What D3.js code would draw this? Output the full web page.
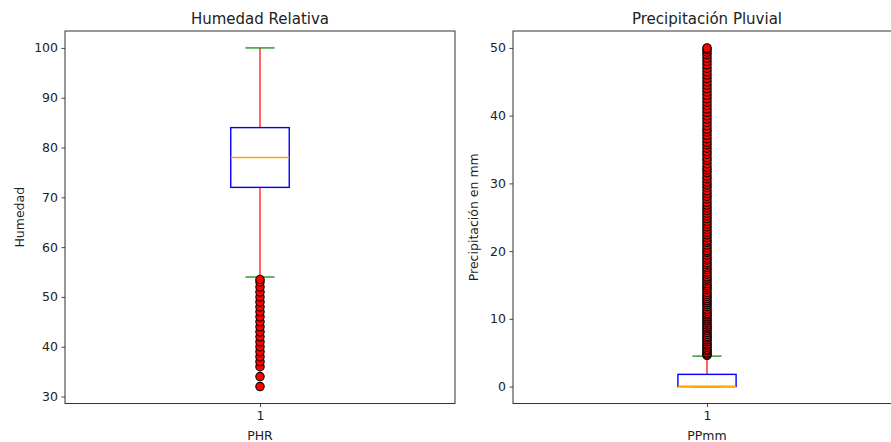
<!DOCTYPE html>
<html><head><meta charset="utf-8">
<script src="https://cdn.jsdelivr.net/npm/d3@7"></script>
<style>body{margin:0;background:#fff}svg{display:block;font-family:"DejaVu Sans",sans-serif}</style>
</head><body><svg id="c" width="891" height="442"></svg>
<script>
const titles = ["Humedad Relativa", "Precipitación Pluvial"];
const yLabels = ["Humedad", "Precipitación en mm"];
const xLabels = ["PHR", "PPmm"];
const categories = ["1"];
// box stats: [whiskerLow, q1, median, q3, whiskerHigh]
const phrStats = [54, 72, 78, 84, 100];
const ppStats = [0, 0, 0, 1.8, 4.5];
const phrOutliers = [32, 34, 36, 37, 38, 39, 40, 41, 42, 43, 44, 45, 46, 47, 48, 49, 50, 51, 52, 53, 53.5];
const ppOutliers = [4.6, 4.8, 5.0, 5.3, 5.5, 5.8, 6.1, 6.3, 6.6, 6.9, 7.2, 7.4, 7.7, 8.0, 8.3, 8.6, 8.8, 9.1, 9.4, 9.7, 10.0, 10.3, 10.6, 10.8, 11.1, 11.4, 11.8, 12.1, 12.4, 12.7, 13.0, 13.3, 13.6, 13.9, 14.3, 14.6, 14.9, 15.2, 15.6, 15.9, 16.2, 16.6, 16.9, 17.3, 17.6, 18.0, 18.3, 18.7, 19.0, 19.4, 19.8, 20.1, 20.5, 20.9, 21.3, 21.6, 22.0, 22.4, 22.8, 23.2, 23.6, 24.0, 24.4, 24.8, 25.2, 25.6, 26.0, 26.4, 26.8, 27.2, 27.7, 28.1, 28.5, 28.9, 29.4, 29.8, 30.2, 30.7, 31.1, 31.6, 32.0, 32.4, 32.9, 33.4, 33.8, 34.3, 34.7, 35.2, 35.7, 36.1, 36.6, 37.1, 37.6, 38.0, 38.5, 39.0, 39.5, 40.0, 40.5, 41.0, 41.5, 42.0, 42.5, 43.0, 43.5, 44.0, 44.5, 45.0, 45.5, 46.0, 46.5, 47.0, 47.5, 48.0, 48.5, 49.0, 49.4, 49.8, 50.0];
const phrTicks = [30, 40, 50, 60, 70, 80, 90, 100];
const ppTicks = [0, 10, 20, 30, 40, 50];

const svg = d3.select("#c");
const panels = [
  {x0: 65, x1: 455, dom: [28.6, 103.4], stats: phrStats, out: phrOutliers, ticks: phrTicks, labelX: 20},
  {x0: 513, x1: 901, dom: [-2.5, 52.5], stats: ppStats, out: ppOutliers, ticks: ppTicks, labelX: 474}
];
const plotTop = 31, plotBottom = 403.5;
const spine = "#333";

panels.forEach((p, i) => {
  const x = d3.scaleLinear().domain([0.5, 1.5]).range([p.x0, p.x1]);
  const y = d3.scaleLinear().domain(p.dom).range([plotBottom, plotTop]);
  const g = svg.append("g");
  const [wl, q1, med, q3, wh] = p.stats;
  const c = 1, bw = 0.075, cw = 0.0375;
  g.append("line").attr("x1", x(c)).attr("x2", x(c)).attr("y1", y(q3)).attr("y2", y(wh)).attr("stroke", "red").attr("stroke-width", 1.2);
  g.append("line").attr("x1", x(c)).attr("x2", x(c)).attr("y1", y(q1)).attr("y2", y(wl)).attr("stroke", "red").attr("stroke-width", 1.2);
  [wl, wh].forEach(v => g.append("line").attr("x1", x(c - cw)).attr("x2", x(c + cw)).attr("y1", y(v)).attr("y2", y(v)).attr("stroke", "green").attr("stroke-width", 1.2));
  g.append("rect").attr("x", x(c - bw)).attr("width", x(c + bw) - x(c - bw)).attr("y", y(q3)).attr("height", y(q1) - y(q3))
    .attr("fill", "none").attr("stroke", "blue").attr("stroke-width", 1.4);
  g.append("line").attr("x1", x(c - bw)).attr("x2", x(c + bw)).attr("y1", y(med)).attr("y2", y(med)).attr("stroke", "orange").attr("stroke-width", 1.4);
  g.selectAll("circle.o").data(p.out).join("circle").attr("class", "o")
    .attr("cx", x(c)).attr("cy", d => y(d)).attr("r", 4.2).attr("fill", "red").attr("stroke", "black").attr("stroke-width", 1.1);
  const ya = g.append("g").attr("transform", `translate(${p.x0},0)`).call(d3.axisLeft(y).tickValues(p.ticks).tickSize(3.5).tickPadding(3.5).tickFormat(d3.format("d")));
  const xa = g.append("g").attr("transform", `translate(0,${plotBottom})`).call(d3.axisBottom(x).tickValues([1]).tickSize(3.5).tickPadding(4).tickFormat((d, k) => categories[k]));
  [ya, xa].forEach(a => { a.select(".domain").remove(); a.selectAll("text").attr("font-size", 12.5).attr("fill", "#222").attr("font-family", "DejaVu Sans"); a.selectAll("line").attr("stroke", spine).attr("stroke-width", 0.9); });
  g.append("rect").attr("x", p.x0).attr("y", plotTop).attr("width", p.x1 - p.x0).attr("height", plotBottom - plotTop).attr("fill", "none").attr("stroke", spine).attr("stroke-width", 1);
  g.append("text").attr("x", (p.x0 + p.x1) / 2).attr("y", 23.5).attr("text-anchor", "middle").attr("font-size", 15).attr("fill", "#222").text(titles[i]);
  g.append("text").attr("x", (p.x0 + p.x1) / 2).attr("y", 439.5).attr("text-anchor", "middle").attr("font-size", 12.5).attr("fill", "#222").text(xLabels[i]);
  g.append("text").attr("transform", `translate(${p.labelX},${(plotTop + plotBottom) / 2}) rotate(-90)`).attr("text-anchor", "middle").attr("dy", "0.35em").attr("font-size", 12.5).attr("fill", "#222").text(yLabels[i]);
});
</script></body></html>
